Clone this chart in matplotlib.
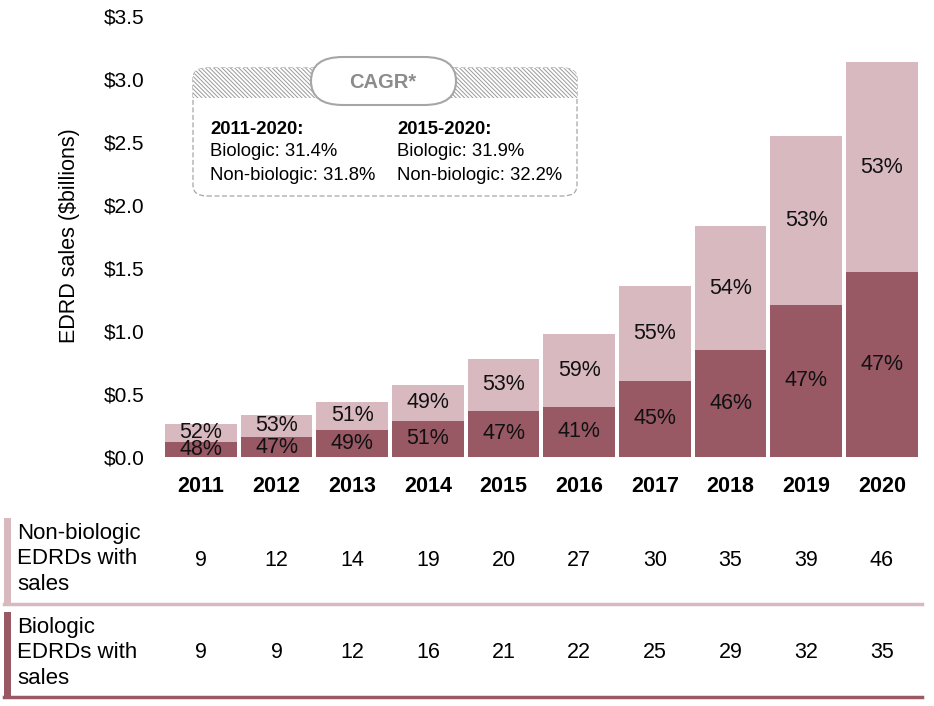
import numpy as np
import matplotlib.pyplot as plt
from matplotlib.patches import FancyBboxPatch, Rectangle
from matplotlib.transforms import blended_transform_factory

plt.rcParams['font.family'] = ['Liberation Sans', 'DejaVu Sans']

# Datos
years = ['2011', '2012', '2013', '2014', '2015', '2016', '2017', '2018', '2019', '2020']
biologic = [0.122, 0.158, 0.216, 0.287, 0.367, 0.400, 0.605, 0.850, 1.207, 1.467]
non_biologic = [0.142, 0.177, 0.219, 0.285, 0.411, 0.576, 0.752, 0.982, 1.338, 1.668]
bio_pct = ['48%', '47%', '49%', '51%', '47%', '41%', '45%', '46%', '47%', '47%']
nonbio_pct = ['52%', '53%', '51%', '49%', '53%', '59%', '55%', '54%', '53%', '53%']
nonbio_counts = [9, 12, 14, 19, 20, 27, 30, 35, 39, 46]
bio_counts = [9, 9, 12, 16, 21, 22, 25, 29, 32, 35]
yticks = [0, 0.5, 1.0, 1.5, 2.0, 2.5, 3.0, 3.5]

dark = '#985864'
light = '#d8b9c0'

W, H = 934, 706
def fx(px):
    return px / W
def fy(py):
    return 1 - py / H

fig = plt.figure(figsize=(W / 100, H / 100), dpi=100)
ax = fig.add_axes([fx(160), fy(457), (922 - 160) / W, (457 - 16) / H])

x = np.arange(len(years))
ax.bar(x, biologic, width=0.95, color=dark)
ax.bar(x, non_biologic, bottom=biologic, width=0.95, color=light)

for i in range(len(years)):
    ax.text(x[i], biologic[i] / 2, bio_pct[i], ha='center', va='center', fontsize=15.5, color='#111111')
    ax.text(x[i], biologic[i] + non_biologic[i] / 2, nonbio_pct[i], ha='center', va='center',
            fontsize=15.5, color='#111111')

ax.set_xlim(-0.54, 9.53)
ax.set_ylim(0, 3.5)
ax.set_yticks(yticks)
ax.set_yticklabels(['${:.1f}'.format(v) for v in yticks], fontsize=15)
ax.set_xticks(x)
ax.set_xticklabels(years, fontsize=15.5, fontweight='bold')
ax.tick_params(axis='y', length=0, pad=11)
ax.tick_params(axis='x', length=0, pad=14)
for s in ax.spines.values():
    s.set_visible(False)

fig.text(fx(70), fy(236), 'EDRD sales ($billions)', rotation=90, ha='center', va='center', fontsize=15.5)

# Cuadro CAGR
outer = FancyBboxPatch((fx(193), fy(196)), fx(577) - fx(193), fy(68) - fy(196),
                       boxstyle='round,pad=0,rounding_size=0.015', transform=fig.transFigure,
                       facecolor='none', edgecolor='#a6a6a6', linestyle=(0, (4, 2)), linewidth=0.9)
fig.patches.append(outer)
plt.rcParams['hatch.linewidth'] = 0.7
band = Rectangle((fx(193), fy(98)), fx(577) - fx(193), fy(68) - fy(98), transform=fig.transFigure,
                 facecolor='white', edgecolor='#9a9a9a', hatch='\\' * 8, linewidth=0)
band.set_clip_path(outer)
fig.patches.append(band)
pill = FancyBboxPatch((fx(311), fy(105)), fx(456) - fx(311), fy(57) - fy(105),
                      boxstyle='round,pad=0,rounding_size=0.034', transform=fig.transFigure,
                      facecolor='white', edgecolor='#a6a6a6', linewidth=1.5)
fig.patches.append(pill)
fig.text(fx(383), fy(82), 'CAGR*', ha='center', va='center', fontsize=14.5, fontweight='bold', color='#8c8c8c')

fig.text(fx(210), fy(129), '2011-2020:', ha='left', va='center', fontsize=13.3, fontweight='bold')
fig.text(fx(210), fy(152), 'Biologic: 31.4%', ha='left', va='center', fontsize=13.3)
fig.text(fx(210), fy(175), 'Non-biologic: 31.8%', ha='left', va='center', fontsize=13.3)
fig.text(fx(397), fy(129), '2015-2020:', ha='left', va='center', fontsize=13.3, fontweight='bold')
fig.text(fx(397), fy(152), 'Biologic: 31.9%', ha='left', va='center', fontsize=13.3)
fig.text(fx(397), fy(175), 'Non-biologic: 32.2%', ha='left', va='center', fontsize=13.3)

# Tabla inferior
trans = blended_transform_factory(ax.transData, fig.transFigure)
fig.patches.append(Rectangle((fx(4), fy(604)), fx(11) - fx(4), fy(518) - fy(604),
                             transform=fig.transFigure, color=light, linewidth=0))
fig.patches.append(Rectangle((fx(4), fy(698)), fx(11) - fx(4), fy(612) - fy(698),
                             transform=fig.transFigure, color=dark, linewidth=0))
fig.add_artist(plt.Line2D([fx(4), fx(922)], [fy(604), fy(604)], transform=fig.transFigure,
                          color=light, linewidth=2.5))
fig.add_artist(plt.Line2D([fx(4), fx(922)], [fy(697), fy(697)], transform=fig.transFigure,
                          color=dark, linewidth=2.5))
fig.text(fx(17), fy(559), 'Non-biologic\nEDRDs with\nsales', ha='left', va='center', fontsize=16,
         linespacing=1.25)
fig.text(fx(17), fy(653), 'Biologic\nEDRDs with\nsales', ha='left', va='center', fontsize=16,
         linespacing=1.25)
for i in range(len(years)):
    ax.text(x[i], fy(560), str(nonbio_counts[i]), transform=trans, ha='center', va='center', fontsize=15.5)
    ax.text(x[i], fy(652), str(bio_counts[i]), transform=trans, ha='center', va='center', fontsize=15.5)

fig.savefig('out.png', dpi=100)
